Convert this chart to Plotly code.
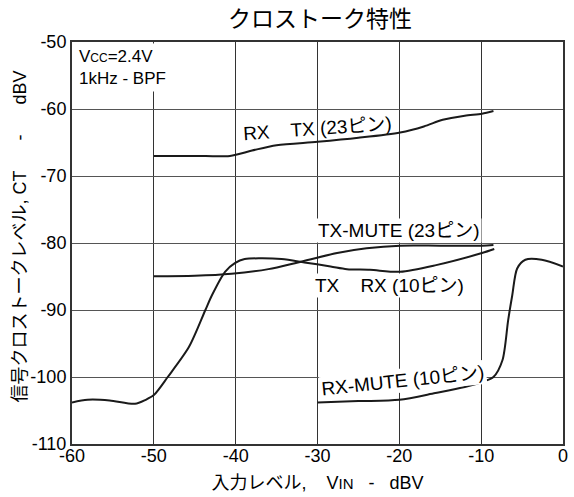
import plotly.graph_objects as go

# X values: input level VIN (dBV); Y values: crosstalk level CT (dBV)
rx_tx_x = [-50, -45, -40.7, -38, -35, -30, -25, -19.9, -17, -14.7, -12, -9.9, -8.5]
rx_tx_y = [-67, -67, -67, -66.2, -65.4, -64.9, -64.3, -63.5, -62.6, -61.6, -61.0, -60.7, -60.3]

tx_mute_x = [-50, -45, -40.5, -36, -32.4, -27.6, -24, -19.9, -15, -9.9, -8.5]
tx_mute_y = [-84.97, -84.9, -84.6, -83.9, -82.9, -81.5, -80.8, -80.4, -80.4, -80.4, -80.3]

tx_rx_x = [-60, -58.1, -55.4, -52.3, -51, -50, -48.3, -45.7, -43.7, -42.9, -41.3, -40.1, -38.9,
           -34.4, -31.6, -28.4, -26.4, -23.6, -19.9, -15.5, -9.9, -8.4]
tx_rx_y = [-103.8, -103.4, -103.5, -104.0, -103.4, -102.7, -100, -95.5, -90, -87.8, -84.3, -83.0, -82.4,
           -82.4, -82.9, -83.5, -83.9, -84.0, -84.3, -83.3, -81.5, -80.9]

rx_mute_x = [-30, -25, -20, -15.6, -12, -9.8, -8.5, -7.4, -6.7, -6.2, -5.6, -4.6, -2.6, 0]
rx_mute_y = [-103.8, -103.6, -103.4, -102.4, -101.5, -100.7, -100, -97.5, -91.5, -87.8, -83.8, -82.5, -82.5, -83.5]

x_ticks = [-60, -50, -40, -30, -20, -10, 0]
x_ticklabels = ["-60", "-50", "-40", "-30", "-20", "-10", "0"]
y_ticks = [-110, -100, -90, -80, -70, -60, -50]
y_ticklabels = ["-110", "-100", "-90", "-80", "-70", "-60", "-50"]

FONT = "Liberation Sans, Arial, Noto Sans CJK JP, sans-serif"
SP = "\u00a0"

fig = go.Figure()
for xs, ys in [(rx_tx_x, rx_tx_y), (tx_mute_x, tx_mute_y), (tx_rx_x, tx_rx_y), (rx_mute_x, rx_mute_y)]:
    fig.add_trace(go.Scatter(x=xs, y=ys, mode="lines",
                             line=dict(color="#1a1a1a", width=2, shape="spline", smoothing=0.8),
                             showlegend=False, hoverinfo="skip"))

ann_common = dict(showarrow=False, font=dict(family=FONT, size=19, color="black"))
fig.add_annotation(x=-30.0, y=-62.9, text="RX" + SP * 4 + "TX (23ピン)", textangle=-4, **ann_common)
fig.add_annotation(x=-20.0, y=-78.1, text="TX-MUTE (23ピン)", bgcolor="white", borderpad=1, **ann_common)
fig.add_annotation(x=-21.2, y=-86.4, text="TX" + SP * 4 + "RX (10ピン)", bgcolor="white", borderpad=1, **ann_common)
fig.add_annotation(x=-19.6, y=-100.5, text="RX-MUTE (10ピン)", textangle=-6, bgcolor="white", borderpad=1, **ann_common)
fig.add_annotation(x=0, y=1, xref="paper", yref="paper", xanchor="left", yanchor="top",
                   text="V<span style='font-size:12px'>CC</span>=2.4V<br>1kHz" + SP + "-" + SP + "BPF",
                   align="left", bgcolor="white", borderpad=3, xshift=3, yshift=-1,
                   showarrow=False, font=dict(family=FONT, size=17, color="black"))

# y-axis title as a rotated annotation for precise placement
fig.add_annotation(x=-0.105, y=0.517, xref="paper", yref="paper", xanchor="center", yanchor="middle",
                   text="信号クロストークレベル," + SP + "CT" + SP * 6 + "-" + SP * 6 + "dBV",
                   textangle=-90, showarrow=False, font=dict(family=FONT, size=18, color="black"))

fig.update_layout(
    width=574, height=497,
    margin=dict(l=72, r=6, t=42, b=53),
    paper_bgcolor="white", plot_bgcolor="white",
    font=dict(family=FONT, color="black"),
    title=dict(text="クロストーク特性", x=0.5575, xanchor="center", y=0.962, yanchor="middle",
               font=dict(family=FONT, size=23, color="black")),
    xaxis=dict(range=[-60, 0], tickvals=x_ticks, ticktext=x_ticklabels,
               showgrid=True, gridcolor="#333", gridwidth=1,
               showline=True, linecolor="#333", linewidth=2, mirror=True,
               ticks="", ticklen=0, tickfont=dict(size=18, family=FONT),
               ticklabelstandoff=-6,
               title=dict(text="入力レベル," + SP * 4 + "V<span style='font-size:15px'>IN</span>" + SP * 3 + "-" + SP * 3 + "dBV",
                          font=dict(size=18, family=FONT), standoff=12),
               zeroline=False),
    yaxis=dict(range=[-110, -50], tickvals=y_ticks, ticktext=y_ticklabels,
               showgrid=True, gridcolor="#555", gridwidth=1,
               showline=True, linecolor="#333", linewidth=2, mirror=True,
               ticks="", ticklen=0, tickfont=dict(size=18, family=FONT),
               zeroline=False),
)

fig.write_html("out.html", post_script="document.body.style.margin='0px';",
               config={"displayModeBar": False})
